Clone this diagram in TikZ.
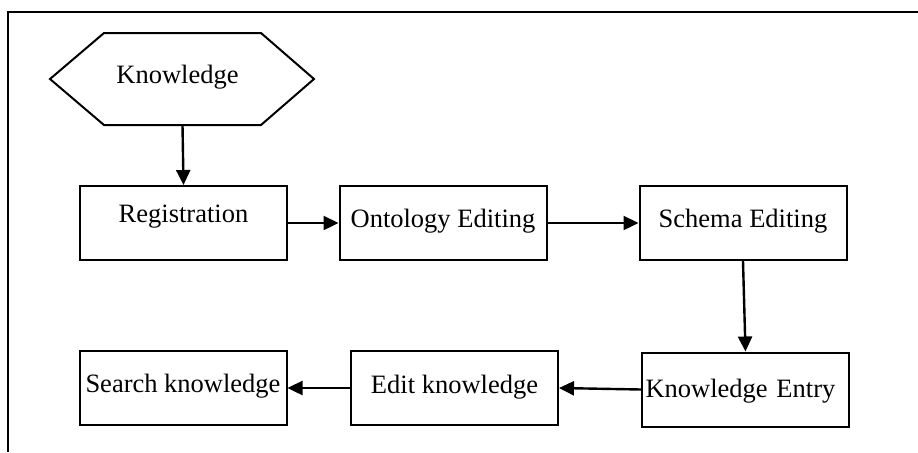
\documentclass[tikz,border=0pt]{standalone}
\usepackage{fontspec}
\setmainfont{Liberation Serif}
\usetikzlibrary{arrows.meta}
\begin{document}
\begin{tikzpicture}[x=0.5pt,y=-0.5pt,
  every node/.style={font=\fontsize{13.25pt}{15pt}\selectfont},
  box/.style={draw,line width=1pt,minimum width=103.5pt,minimum height=37pt,inner sep=0pt,text height=10pt,text depth=6pt},
  conn/.style={line width=1.2pt,-{Triangle[length=7.5pt,width=7pt]}},
  frame/.style={line width=1pt}]
\useasboundingbox (0,0) rectangle (918,452);
% frame
\draw[frame] (918,12) -- (8,12) -- (8,452);
% hexagon
\coordinate (h1) at (50,79);
\coordinate (h2) at (104,33);
\coordinate (h3) at (261,33);
\coordinate (h4) at (314,79);
\coordinate (h5) at (261,125);
\coordinate (h6) at (104,125);
\coordinate (knb) at (182.5,125);
\draw[line width=1pt] (h1) -- (h2) -- (h3) -- (h4) -- (h5) -- (h6) -- cycle;
\node[anchor=base,inner sep=0pt] (kn) at (177.5,83) {Knowledge};
% boxes
\node[box,text depth=11pt] (reg) at (183.5,223) {Registration};
\node[box] (ont) at (443,223) {Ontology Editing};
\node[box] (sch) at (743,223) {Schema Editing};
\node[box,text depth=2pt,text width=100pt,align=left] (ke) at (745.5,389.5) {Knowledge Entry};
\node[box,text depth=5pt] (edit) at (454.5,388) {Edit knowledge};
\node[box] (search) at (183,388) {Search knowledge};
% connectors
\draw[conn] (knb) -- (reg.north);
\draw[conn] (reg.east) -- (ont.west);
\draw[conn] (ont.east) -- (sch.west);
\draw[conn] (sch.south) -- (ke.north);
\draw[conn] (ke.west) -- (edit.east);
\draw[conn] (edit.west) -- (search.east);
\end{tikzpicture}
\end{document}
